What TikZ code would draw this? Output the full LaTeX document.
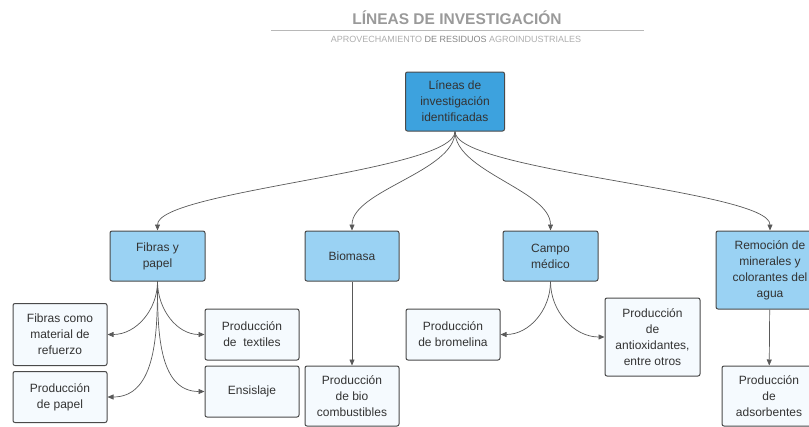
\documentclass[tikz,border=0pt]{standalone}
\usepackage{fontspec}
\setmainfont{Liberation Sans}
\usetikzlibrary{arrows.meta,positioning}
\definecolor{rootblue}{HTML}{3DA2DE}
\definecolor{lineblue}{HTML}{9AD2F3}
\definecolor{leafwhite}{HTML}{F5FAFE}
\definecolor{boxedge}{HTML}{4A4A4A}
\definecolor{txtgray}{HTML}{333333}
\definecolor{headgray}{HTML}{9A9A9A}
\tikzset{>={Triangle[length=6pt,width=5pt]},
  box/.style={draw=boxedge, line width=1pt, rounded corners=2pt, align=center,
    text=txtgray, font=\fontsize{12}{16}\selectfont, inner sep=0pt},
  rootbox/.style={box, fill=rootblue},
  linebox/.style={box, fill=lineblue},
  leafbox/.style={box, fill=leafwhite},
  link/.style={->, draw=black!65, line width=0.7pt}}

\begin{document}
\begin{tikzpicture}[x=1pt, y=-1pt]
    \useasboundingbox (0,0) rectangle (809,426);
    % heading
    \node[text=headgray, font=\bfseries\fontsize{15.5}{17}\selectfont] (title) at (457,18) {LÍNEAS DE INVESTIGACIÓN};
    \coordinate (rule-l) at (271,30);
    \coordinate (rule-r) at (644,30);
    \draw[headgray!70, line width=1pt] (rule-l) -- (rule-r);
    \node[text=headgray!80, font=\fontsize{9}{10}\selectfont] (subtitle) at (456,39.5)
        {APROVECHAMIENTO {\color{headgray!120}DE RESIDUOS} AGROINDUSTRIALES};

    % root
    \node[rootbox, minimum width=99, minimum height=59] (root) at (455,101.5) {Líneas de\\investigación\\identificadas};

    % lines
    \node[linebox, minimum width=95, minimum height=50] (fib) at (157.5,256) {Fibras y\\papel};
    \node[linebox, minimum width=94, minimum height=50] (bio) at (352,256) {Biomasa};
    \node[linebox, minimum width=95, minimum height=50] (cam) at (550.5,256) {Campo\\médico};
    \node[linebox, minimum width=108, minimum height=78] (rem) at (770,270) {Remoción de\\minerales y\\colorantes del\\agua};

    % products
    \node[leafbox, minimum width=94, minimum height=62] (fcm) at (60,334.5) {Fibras como\\material de\\refuerzo};
    \node[leafbox, minimum width=94, minimum height=51] (ppa) at (60,397) {Producción\\de papel};
    \node[leafbox, minimum width=94, minimum height=51] (tex) at (252,334.5) {Producción\\de\ \ textiles};
    \node[leafbox, minimum width=94, minimum height=51] (ens) at (252,391.5) {Ensislaje};
    \node[leafbox, minimum width=94, minimum height=60] (pbc) at (352,396) {Producción\\de bio\\combustibles};
    \node[leafbox, minimum width=94, minimum height=51] (bro) at (453,334.5) {Producción\\de bromelina};
    \node[leafbox, minimum width=95, minimum height=78] (ant) at (652.5,337) {Producción\\de\\antioxidantes,\\entre otros};
    \node[leafbox, minimum width=94, minimum height=60] (ads) at (769,396) {Producción\\de\\adsorbentes};

    % connectors
    \foreach \t in {fib,bio,cam,rem}
        \draw[link] (root.south) to[out=-90, in=90, distance=40] (\t.north);
    \foreach \t in {fcm,ppa}
        \draw[link] (fib.south) to[out=-90, in=0] (\t.east);
    \foreach \t in {tex,ens}
        \draw[link] (fib.south) to[out=-90, in=180] (\t.west);
    \draw[link] (bio) -- (pbc);
    \draw[link] (cam.south) to[out=-90, in=0] (bro.east);
    \draw[link] (cam.south) to[out=-90, in=180] (ant.west);
    \draw[link] (rem) -- (ads);
\end{tikzpicture}
\end{document}
